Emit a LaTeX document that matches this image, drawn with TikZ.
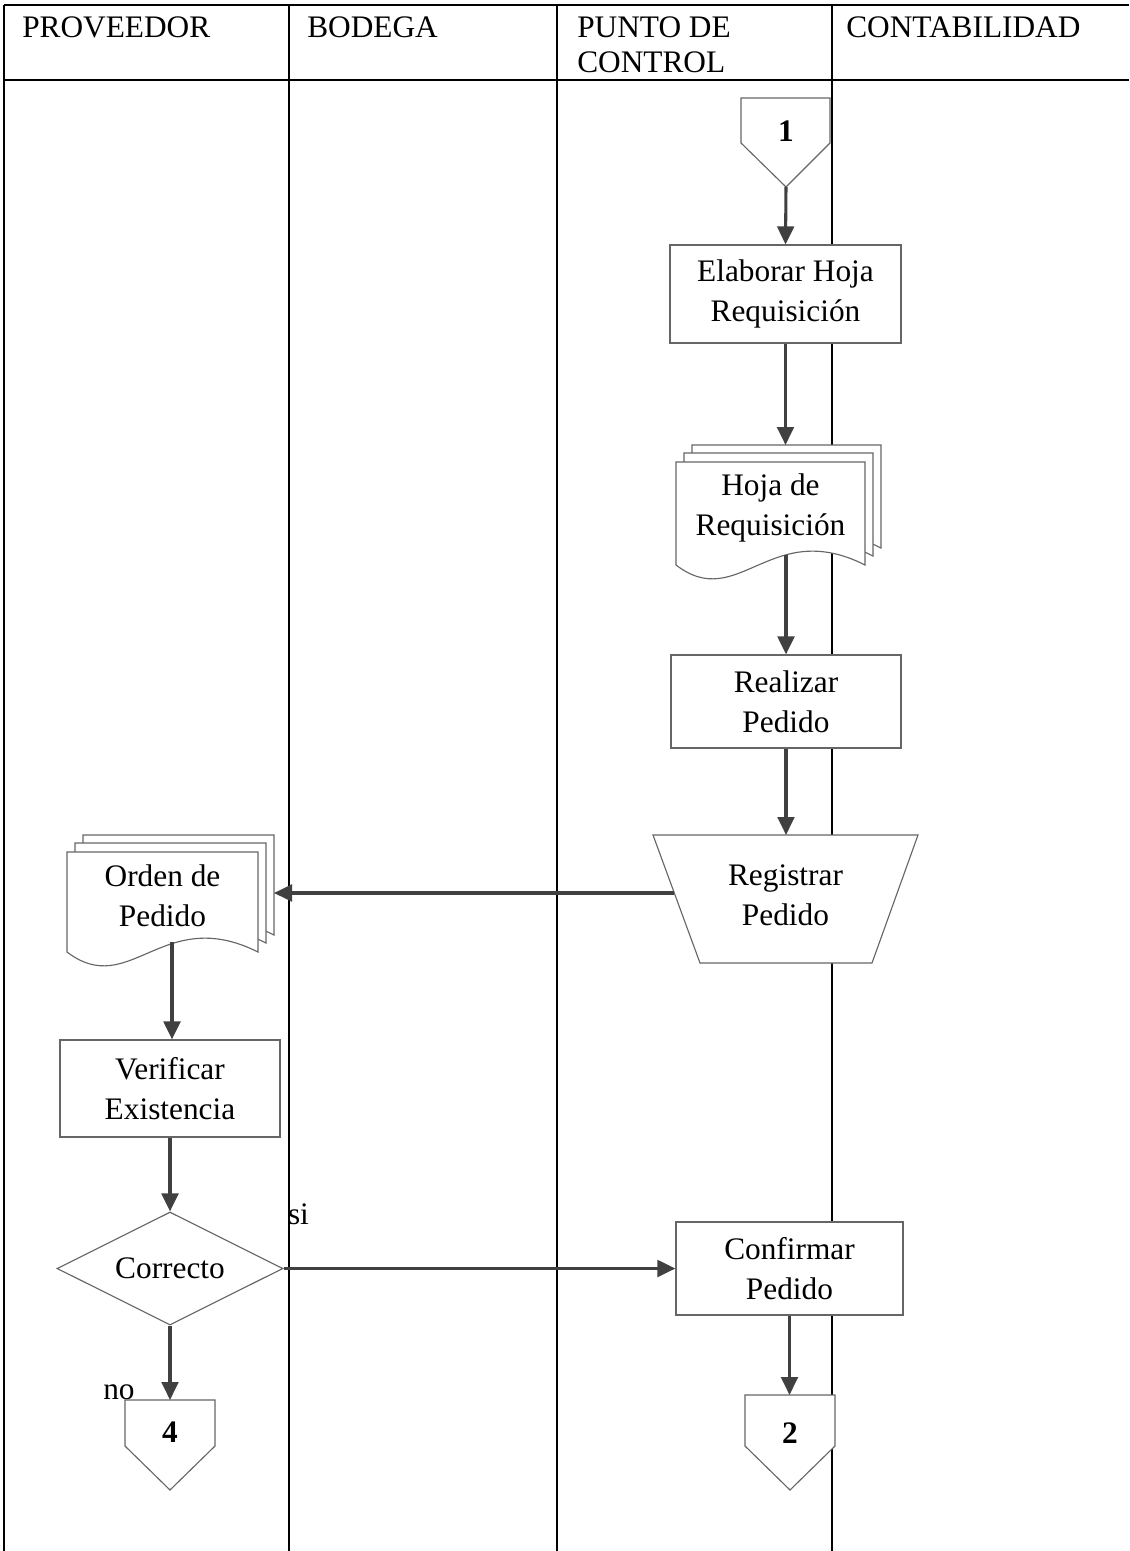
\documentclass[tikz,border=0pt]{standalone}
\usepackage{fontspec}
\setmainfont{Liberation Serif}
\usetikzlibrary{arrows.meta,shapes.geometric,calc}

\newdimen\pxu \pxu=0.75pt
\definecolor{edgecol}{HTML}{666666}
\definecolor{arrowcol}{HTML}{404040}

\tikzset{
  lane/.style={line width=1.5pt, black},
  shp/.style={draw=edgecol, line width=0.85pt, fill=white},
  proc/.style={shp, rectangle, align=center, inner sep=0pt},
  txt/.style={align=center, inner sep=0pt},
  hdr/.style={anchor=base west, inner sep=0pt},
  num/.style={font=\fontsize{23.5}{30}\selectfont\bfseries, inner sep=0pt},
  flow/.style={draw=arrowcol, line width=2.3pt, -{Triangle[length=13.5pt,width=12.5pt]}},
}

% one sheet of a document stack: left, top, width, height (wavy lower edge)
\newcommand\docsheet[4]{%
  \begin{scope}[shift={(#1,#2)}]
    \path[shp] (0,0) -- (#3,0) -- (#3,#4)
      .. controls ({0.5*#3},{#4-48}) and ({0.33*#3},{#4+48}) .. (0,#4) -- cycle;
  \end{scope}}

\begin{document}
\begin{tikzpicture}[x=0.75pt, y=-0.75pt, font=\fontsize{23.5}{30}\selectfont]
\useasboundingbox (0,0) rectangle (1129,1551);

% swimlane grid
\draw[lane] (4,5) -- (1129,5);
\draw[lane] (4,80) -- (1129,80);
\foreach \x in {4,289,557,832} \draw[lane] (\x,5) -- (\x,1551);

% lane headers
\node[hdr] (hprov) at (22,38) {PROVEEDOR};
\node[hdr] (hbod)  at (307,38) {BODEGA};
\node[hdr] (hpc1)  at (577,38) {PUNTO DE};
\node[hdr] (hpc2)  at (577,73) {CONTROL};
\node[hdr] (hcont) at (846,38) {CONTABILIDAD};

% off-page connector 1
\path[shp] (741,98) -- (830,98) -- (830,143) -- (786,187) -- (741,143) -- cycle;
\node[num] (c1) at (786,131) {1};
\coordinate (c1tip) at (786,187);

% Elaborar Hoja Requisicion
\node[proc, minimum width=231\pxu, minimum height=98\pxu] (elab) at (785.5,294) {Elaborar Hoja\\Requisición};

% document stack: Hoja de Requisicion
\docsheet{692}{445}{189}{103}
\docsheet{684}{453}{189}{103}
\docsheet{676}{462}{189}{103}
\node[txt] (hoja) at (770.5,508) {Hoja de\\Requisición};
\coordinate (hojain) at (786,445);
\coordinate (hojaout) at (786,555);

% Realizar Pedido
\node[proc, minimum width=230\pxu, minimum height=93\pxu] (real) at (786,701.5) {Realizar\\Pedido};

% manual operation: Registrar Pedido
\path[shp] (653,835) -- (918,835) -- (872,963) -- (700,963) -- cycle;
\node[txt] (reg) at (785.5,895) {Registrar\\Pedido};
\coordinate (regtop) at (786,835);
\coordinate (regleft) at (674,893);

% document stack: Orden de Pedido
\docsheet{83}{835}{191}{100}
\docsheet{75}{843}{191}{100}
\docsheet{67}{852}{191}{100}
\node[txt] (ord) at (162.5,896) {Orden de\\Pedido};
\coordinate (ordin) at (274,893);
\coordinate (ordout) at (172,942);

% Verificar Existencia
\node[proc, minimum width=220\pxu, minimum height=97\pxu] (verif) at (170,1088.5) {Verificar\\Existencia};

% decision
\node[shp, diamond, aspect=2, inner sep=0pt, minimum width=226\pxu, minimum height=113\pxu] (dec) at (170,1268.5) {Correcto};
\node[inner sep=0pt] (lsi) at (298.5,1214.5) {si};

% Confirmar Pedido
\node[proc, minimum width=227\pxu, minimum height=93\pxu] (conf) at (789.5,1268.5) {Confirmar\\Pedido};

% branch label and off-page connector 4
\node[anchor=base west, inner sep=0pt] (lno) at (103,1399) {no};
\path[shp] (125,1400) -- (215,1400) -- (215,1446) -- (170,1490) -- (125,1446) -- cycle;
\node[num] (c4) at (170,1432) {4};
\coordinate (c4top) at (170,1400);

% off-page connector 2
\path[shp] (745,1395) -- (835,1395) -- (835,1446) -- (790,1490) -- (745,1446) -- cycle;
\node[num] (c2) at (790,1433) {2};
\coordinate (c2top) at (790,1395);

% flow arrows
\draw[flow] (c1tip) -- (elab.north);
\draw[flow] (elab.south) -- (elab.south |- hojain);
\draw[flow] (hojaout) -- (hojaout |- real.north);
\draw[flow] (real.south) -- (regtop);
\draw[flow] (regleft) -- (ordin);
\draw[flow] (ordout) -- (ordout |- verif.north);
\draw[flow] (verif.south) -- (dec.north);
\draw[flow] (dec.east) -- (conf.west);
\draw[flow] (dec.south) -- (c4top);
\draw[flow] (conf.south) -- (conf.south |- c2top);
\end{tikzpicture}
\end{document}
